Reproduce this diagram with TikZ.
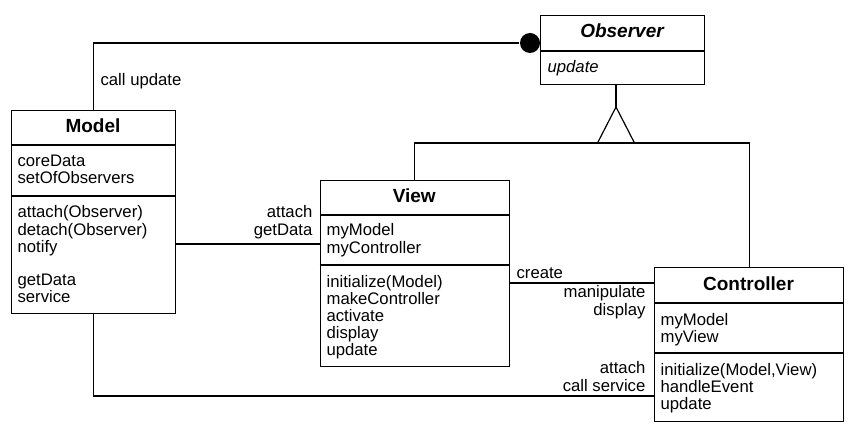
\documentclass[tikz,border=0pt]{standalone}
\usepackage{fontspec}
\setmainfont{Liberation Sans}
\usetikzlibrary{calc}
\begin{document}
\begin{tikzpicture}[x=1pt,y=-1pt,line width=1.2pt,
  box/.style={draw,rectangle,inner sep=0pt,anchor=north west},
  txt/.style={inner sep=0pt,font=\fontsize{16.7}{17}\selectfont},
  ttl/.style={inner sep=0pt,anchor=base,font=\fontsize{19}{20}\selectfont\bfseries},
  sep/.style={line width=1.2pt}]
\useasboundingbox (0,0) rectangle (850,430);

% ---------- Observer ----------
\node[box,minimum width=164pt,minimum height=69pt] (observer) at (540,15) {};
\draw[sep] (540,51) -- (704,51);
\node[ttl,font=\fontsize{19}{20}\selectfont\bfseries\itshape] (obs-t) at (622,38) {Observer};
\node[txt,anchor=base west,font=\fontsize{16.7}{17}\selectfont\itshape] (obs-m1) at (547,73) {update};

% ---------- Model ----------
\node[box,minimum width=164pt,minimum height=203pt] (model) at (11,110) {};
\draw[sep] (11,145) -- (175,145);
\draw[sep] (11,196) -- (175,196);
\node[ttl] (mod-t) at (93,133) {Model};
\node[txt,anchor=base west] (mod-a1) at (17,167) {coreData};
\node[txt,anchor=base west] (mod-a2) at (17,184) {setOfObservers};
\node[txt,anchor=base west] (mod-m1) at (17,218) {attach(Observer)};
\node[txt,anchor=base west] (mod-m2) at (17,235) {detach(Observer)};
\node[txt,anchor=base west] (mod-m3) at (17,252) {notify};
\node[txt,anchor=base west] (mod-m4) at (17,285) {getData};
\node[txt,anchor=base west] (mod-m5) at (17,302) {service};

% ---------- View ----------
\node[box,minimum width=189.5pt,minimum height=186pt] (view) at (319.5,180) {};
\draw[sep] (319.5,215) -- (509,215);
\draw[sep] (319.5,265) -- (509,265);
\node[ttl] (view-t) at (414.25,203) {View};
\node[txt,anchor=base west] (view-a1) at (326,236) {myModel};
\node[txt,anchor=base west] (view-a2) at (326,253) {myController};
\node[txt,anchor=base west] (view-m1) at (326,287) {initialize(Model)};
\node[txt,anchor=base west] (view-m2) at (326,304) {makeController};
\node[txt,anchor=base west] (view-m3) at (326,321) {activate};
\node[txt,anchor=base west] (view-m4) at (326,338) {display};
\node[txt,anchor=base west] (view-m5) at (326,355) {update};

% ---------- Controller ----------
\node[box,minimum width=189pt,minimum height=154pt] (controller) at (654,267) {};
\draw[sep] (654,303) -- (843,303);
\draw[sep] (654,353) -- (843,353);
\node[ttl] (ctl-t) at (748.5,290) {Controller};
\node[txt,anchor=base west] (ctl-a1) at (660,325) {myModel};
\node[txt,anchor=base west] (ctl-a2) at (660,342) {myView};
\node[txt,anchor=base west] (ctl-m1) at (660,375) {initialize(Model,View)};
\node[txt,anchor=base west] (ctl-m2) at (660,392) {handleEvent};
\node[txt,anchor=base west] (ctl-m3) at (660,409) {update};

% ---------- connectors ----------
% call update (Model -> Observer, filled dot)
\coordinate (obsin) at ([yshift=-28pt]observer.north west);
\node[circle,fill=black,draw=none,minimum size=20pt,inner sep=0pt] (dot) at ([xshift=-10pt]obsin) {};
\draw (model.north) |- (dot);
\node[txt,anchor=base west] (lbl-cu) at (100,86) {call update};

% generalization to Observer
\coordinate (apex) at (616,107);
\coordinate (bar) at (616,143);
\draw (observer.south -| apex) -- (apex);
\draw[line join=miter] (apex) -- ([xshift=-18.5pt]bar) -- ([xshift=18.5pt]bar) -- cycle;
\draw (view.north) -- (view.north |- bar) -- (controller.north |- bar) -- (controller.north);

% Model -- View
\coordinate (mv) at (0,244);
\draw (model.east |- mv) -- (view.west |- mv);
\node[txt,anchor=base east] (lbl-mv1) at (313,218) {attach};
\node[txt,anchor=base east] (lbl-mv2) at (313,235) {getData};

% View -- Controller
\coordinate (vc) at (0,283);
\draw (view.east |- vc) -- (controller.west |- vc);
\node[txt,anchor=base west] (lbl-vc0) at (516,278) {create};
\node[txt,anchor=base east] (lbl-vc1) at (646,297) {manipulate};
\node[txt,anchor=base east] (lbl-vc2) at (646,315) {display};

% Model -- Controller
\coordinate (mc) at (0,396);
\draw (model.south) |- (controller.west |- mc);
\node[txt,anchor=base east] (lbl-mc1) at (646,373) {attach};
\node[txt,anchor=base east] (lbl-mc2) at (646,391) {call service};
\end{tikzpicture}
\end{document}
